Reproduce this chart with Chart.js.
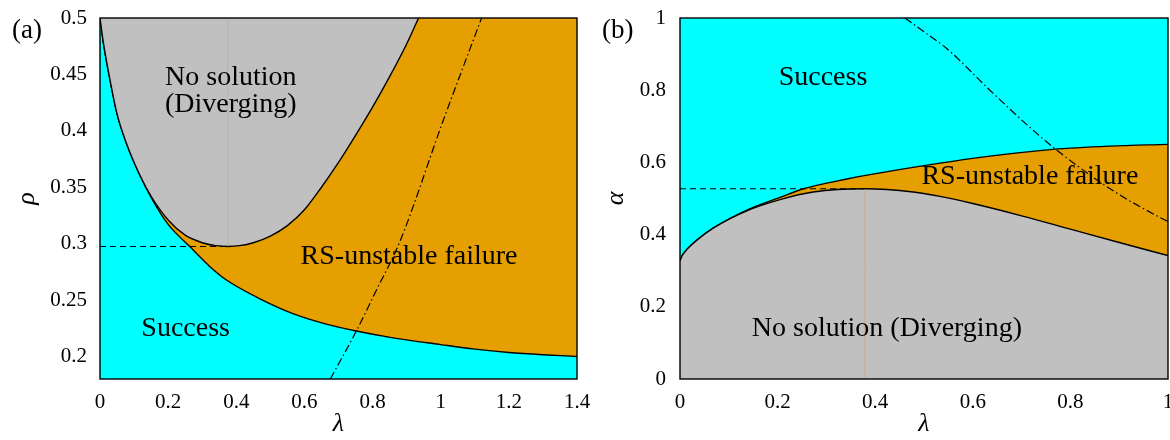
<!DOCTYPE html>
<html>
<head>
<meta charset="utf-8">
<script src="https://cdn.jsdelivr.net/npm/chart.js@4.4.1/dist/chart.umd.min.js"></script>
<style>
  html, body { margin: 0; padding: 0; background: #fff; }
  #wrap { position: relative; width: 1170px; height: 440px; }
  #chartA { position: absolute; left: 0; top: 0; }
  #chartB { position: absolute; left: 590px; top: 0; }
</style>
</head>
<body>
<div id="wrap">
  <canvas id="chartA" width="590" height="440"></canvas>
  <canvas id="chartB" width="580" height="440"></canvas>
</div>
<script>
// ---- (a) rho vs lambda ----
const lamTicksA = [0, 0.2, 0.4, 0.6, 0.8, 1, 1.2, 1.4];
const rhoTicks = [0.2, 0.25, 0.3, 0.35, 0.4, 0.45, 0.5];

// boundary of the "No solution" region
const divLamA = [0, 0.01, 0.025, 0.05, 0.08, 0.115, 0.15, 0.2, 0.25, 0.3, 0.34, 0.375, 0.41, 0.45, 0.5, 0.55, 0.6, 0.65, 0.7, 0.75, 0.8, 0.85, 0.9, 0.935];
const divRhoA = [0.5, 0.478, 0.452, 0.415, 0.387, 0.362, 0.342, 0.321, 0.3075, 0.3008, 0.2982, 0.2975, 0.2982, 0.3008, 0.3067, 0.316, 0.330, 0.350, 0.372, 0.396, 0.421, 0.448, 0.477, 0.5];

// boundary of the "Success" region
const succLamA = [0, 0.01, 0.025, 0.05, 0.08, 0.115, 0.15, 0.2, 0.262, 0.321, 0.37, 0.468, 0.566, 0.664, 0.752, 0.86, 1.0, 1.1, 1.2, 1.3, 1.4];
const succRhoA = [0.5, 0.478, 0.452, 0.415, 0.387, 0.362, 0.341, 0.317, 0.2978, 0.280, 0.268, 0.2513, 0.238, 0.2287, 0.2225, 0.2165, 0.2105, 0.2065, 0.2035, 0.2015, 0.2];

// AT line (dash-dot)
const atLamA = [0.676, 0.752, 0.81, 0.879, 1.006, 1.12];
const atRhoA = [0.18, 0.2223, 0.258, 0.301, 0.408, 0.5];

// minimum of the divergence curve
const minLamA = 0.375;
const minRhoA = 0.2975;

// ---- (b) alpha vs lambda ----
const lamTicksB = [0, 0.2, 0.4, 0.6, 0.8, 1];
const alphaTicks = [0, 0.2, 0.4, 0.6, 0.8, 1];

const succLamB = [0, 0.005, 0.015, 0.034, 0.068, 0.137, 0.205, 0.253, 0.342, 0.41, 0.533, 0.615, 0.764, 0.88, 1.0];
const succAlphaB = [0.328, 0.343, 0.36, 0.384, 0.418, 0.468, 0.503, 0.527, 0.554, 0.571, 0.598, 0.614, 0.636, 0.645, 0.65];

const divLamB = [0, 0.005, 0.015, 0.034, 0.068, 0.137, 0.205, 0.273, 0.379, 0.478, 0.533, 0.6, 0.7, 0.8, 0.9, 1.0];
const divAlphaB = [0.328, 0.343, 0.36, 0.384, 0.418, 0.466, 0.497, 0.518, 0.527, 0.518, 0.506, 0.486, 0.452, 0.415, 0.378, 0.342];

const atLamB = [0.461, 0.5, 0.547, 0.635, 0.717, 0.773, 0.887, 0.984, 1.0];
const atAlphaB = [1.0, 0.962, 0.915, 0.8, 0.697, 0.633, 0.522, 0.447, 0.436];

const maxLamB = 0.379;
const maxAlphaB = 0.527;

// ---- styles ----
const CYAN = '#00ffff';
const GRAY = '#c0c0c0';
const ORANGE = '#e69f00';
const SERIF = '"Liberation Serif", "Times New Roman", serif';
const tickFont = { family: SERIF, size: 21 };
const titleFont = { family: SERIF, size: 26, style: 'italic' };

function pts(xs, ys) {
  return xs.map((x, i) => ({ x: x, y: ys[i] }));
}

function curve(data, extra) {
  return Object.assign({
    data: data,
    borderColor: '#000',
    borderWidth: 1.4,
    pointRadius: 0,
    fill: false,
    cubicInterpolationMode: 'monotone'
  }, extra);
}

// background, frame and text labels
const frame = {
  id: 'frame',
  beforeDraw(chart, args, opts) {
    const { ctx, chartArea: a } = chart;
    ctx.save();
    ctx.fillStyle = opts.bg;
    ctx.fillRect(a.left, a.top, a.right - a.left, a.bottom - a.top);
    ctx.restore();
  },
  afterDatasetsDraw(chart, args, opts) {
    const { ctx, chartArea: a } = chart;
    const x = chart.scales.x, y = chart.scales.y;
    ctx.save();
    ctx.strokeStyle = '#000';
    ctx.lineWidth = 1.4;
    ctx.strokeRect(a.left, a.top, a.right - a.left, a.bottom - a.top);
    ctx.fillStyle = '#000';
    ctx.font = '28px ' + SERIF;
    ctx.textAlign = 'center';
    ctx.textBaseline = 'middle';
    opts.notes.forEach(n => {
      ctx.fillText(n.text, x.getPixelForValue(n.x), y.getPixelForValue(n.y));
    });
    ctx.textAlign = 'left';
    ctx.font = '27px ' + SERIF;
    ctx.fillText(opts.tag, 12, 31);
    ctx.restore();
  }
};

function scales(xr, yr, xt, yt, yTitle, yWidth, yTitlePad, yPad) {
  return {
    x: {
      type: 'linear', min: xr[0], max: xr[1],
      afterBuildTicks: s => { s.ticks = xt.map(v => ({ value: v })); },
      afterFit: s => { s.height = 61; s.paddingLeft = 0; s.paddingRight = 0; },
      grid: { display: false, drawTicks: false },
      border: { display: false },
      ticks: { padding: 11, color: '#000', font: tickFont, maxRotation: 0, autoSkip: false, callback: v => String(v) },
      title: { display: true, text: 'λ', color: '#000', font: titleFont, padding: { top: 0, bottom: 0 } }
    },
    y: {
      type: 'linear', min: yr[0], max: yr[1],
      afterBuildTicks: s => { s.ticks = yt.map(v => ({ value: v })); },
      afterFit: s => { s.width = yWidth; s.paddingTop = 0; s.paddingBottom = 0; },
      grid: { display: false, drawTicks: false },
      border: { display: false },
      ticks: { padding: yPad, color: '#000', font: tickFont, autoSkip: false, callback: v => String(v) },
      title: { display: true, text: yTitle, color: '#000', font: titleFont, padding: { top: yTitlePad, bottom: 0 } }
    }
  };
}

// ---- chart (a) ----
new Chart(document.getElementById('chartA'), {
  type: 'line',
  data: {
    datasets: [
      curve(pts(atLamA, atRhoA), { borderDash: [8, 3, 1.5, 3], borderWidth: 1.2 }),
      curve(pts([0, minLamA], [minRhoA, minRhoA]), { borderDash: [6, 4], borderWidth: 1.1 }),
      curve(pts([minLamA, minLamA], [minRhoA, 0.5]), { borderColor: 'rgba(215,160,90,0.55)', borderWidth: 1 }),
      curve(pts(divLamA, divRhoA), { fill: 'end', backgroundColor: GRAY }),
      curve(pts(succLamA, succRhoA), { fill: 'start', backgroundColor: CYAN })
    ]
  },
  options: {
    responsive: false,
    animation: false,
    layout: { padding: { left: 0, right: 13, top: 18, bottom: 0 } },
    scales: scales([0, 1.4], [0.18, 0.5], lamTicksA, rhoTicks, 'ρ', 100, 12, 13),
    plugins: {
      legend: { display: false },
      tooltip: { enabled: false },
      frame: {
        bg: ORANGE,
        tag: '(a)',
        notes: [
          { text: 'No solution', x: 0.384, y: 0.4467 },
          { text: '(Diverging)', x: 0.384, y: 0.4236 },
          { text: 'Success', x: 0.2515, y: 0.2247 },
          { text: 'RS-unstable failure', x: 0.907, y: 0.2882 }
        ]
      }
    }
  },
  plugins: [frame]
});

// ---- chart (b) ----
new Chart(document.getElementById('chartB'), {
  type: 'line',
  data: {
    datasets: [
      curve(pts(atLamB, atAlphaB), { borderDash: [8, 3, 1.5, 3], borderWidth: 1.2 }),
      curve(pts([0, maxLamB], [maxAlphaB, maxAlphaB]), { borderDash: [6, 4], borderWidth: 1.1 }),
      curve(pts([maxLamB, maxLamB], [0, maxAlphaB]), { borderColor: 'rgba(215,160,90,0.55)', borderWidth: 1 }),
      curve(pts(divLamB, divAlphaB), { fill: 'start', backgroundColor: GRAY }),
      curve(pts(succLamB, succAlphaB), { fill: 'start', backgroundColor: ORANGE })
    ]
  },
  options: {
    responsive: false,
    animation: false,
    layout: { padding: { left: 0, right: 2, top: 18, bottom: 0 } },
    scales: scales([0, 1], [0, 1], lamTicksB, alphaTicks, 'α', 90, 11, 14),
    plugins: {
      legend: { display: false },
      tooltip: { enabled: false },
      frame: {
        bg: CYAN,
        tag: '(b)',
        notes: [
          { text: 'Success', x: 0.293, y: 0.834 },
          { text: 'RS-unstable failure', x: 0.717, y: 0.56 },
          { text: 'No solution (Diverging)', x: 0.424, y: 0.1385 }
        ]
      }
    }
  },
  plugins: [frame]
});
</script>
</body>
</html>
